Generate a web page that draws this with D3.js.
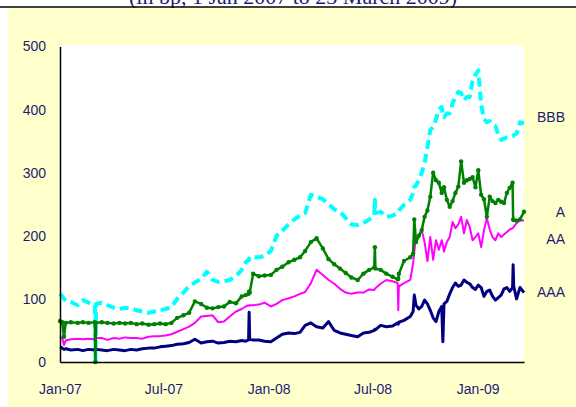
<!DOCTYPE html>
<html lang="en">
<head>
<meta charset="UTF-8">
<title>Spreads by rating</title>
<script src="https://d3js.org/d3.v7.min.js"></script>
<style>
  body { margin: 0; background: #fff; }
  svg { display: block; }
  .axis text { font-family: "Liberation Sans", Arial, sans-serif; font-size: 14px; fill: #1c1c75; }
</style>
</head>
<body>
<div id="chart"></div>
<script>
const width = 576;
const height = 407;

// series data (bp)
const dates = [
  "2007-01-01","2007-01-05","2007-01-08","2007-01-11","2007-01-20","2007-02-01","2007-02-10","2007-02-20","2007-03-03","2007-03-04",
  "2007-03-05","2007-03-15","2007-03-25","2007-04-05","2007-04-15","2007-04-25","2007-05-05","2007-05-15","2007-05-25","2007-06-05",
  "2007-06-15","2007-06-25","2007-07-05","2007-07-15","2007-07-25","2007-08-05","2007-08-15","2007-08-25","2007-09-05","2007-09-15",
  "2007-09-25","2007-10-05","2007-10-15","2007-10-25","2007-11-05","2007-11-15","2007-11-22","2007-11-27","2007-11-28","2007-11-29",
  "2007-12-05","2007-12-15","2007-12-25","2008-01-05","2008-01-15","2008-01-25","2008-02-05","2008-02-15","2008-02-25","2008-03-05",
  "2008-03-15","2008-03-25","2008-04-05","2008-04-15","2008-04-25","2008-05-05","2008-05-15","2008-05-25","2008-06-05","2008-06-15",
  "2008-06-25","2008-07-04","2008-07-05","2008-07-06","2008-07-15","2008-07-25","2008-08-05","2008-08-14","2008-08-15","2008-08-16",
  "2008-08-25","2008-09-05","2008-09-10","2008-09-12","2008-09-15","2008-09-20","2008-09-25","2008-09-30","2008-10-05","2008-10-10",
  "2008-10-15","2008-10-20","2008-10-25","2008-10-30","2008-11-01","2008-11-03","2008-11-08","2008-11-13","2008-11-18","2008-11-23",
  "2008-11-28","2008-12-03","2008-12-08","2008-12-13","2008-12-18","2008-12-23","2008-12-28","2009-01-02","2009-01-07","2009-01-12",
  "2009-01-17","2009-01-22","2009-01-27","2009-02-01","2009-02-06","2009-02-11","2009-02-16","2009-02-21","2009-02-26","2009-03-03",
  "2009-03-04","2009-03-05","2009-03-10","2009-03-16","2009-03-23"
];

const aaa = [
  24,22,20,21,19,20,18,20,19,19,
  20,19,18,20,19,18,20,19,21,22,
  22,24,25,26,28,29,31,36,30,32,
  33,30,31,33,32,34,33,35,79,36,
  35,35,33,32,38,44,46,45,47,58,
  62,56,54,64,50,46,44,42,40,46,
  47,50,52,51,58,56,57,62,60,63,
  66,72,80,106,90,84,88,98,92,82,
  70,64,80,88,32,92,96,108,118,125,
  120,122,130,126,124,118,115,122,118,104,
  112,114,104,98,102,106,116,118,112,118,
  154,120,100,118,110
];

const aa = [
  40,38,27,34,36,37,36,37,36,37,
  38,38,35,38,37,39,38,38,37,40,
  41,41,42,44,48,52,56,62,72,73,
  74,63,64,72,80,84,88,90,89,90,
  90,91,94,88,92,98,101,104,108,111,
  125,146,138,130,124,116,110,108,110,110,
  115,114,116,117,124,130,128,125,82,120,
  125,130,157,175,198,200,209,190,160,198,
  162,193,178,193,185,175,190,198,222,212,
  218,230,204,225,214,193,198,204,182,209,
  228,210,198,193,204,198,202,206,210,212,
  213,214,220,225,224
];

const a = [
  65,63,40,62,63,62,63,62,63,0,
  62,63,62,61,62,61,62,60,61,59,
  60,61,60,62,70,74,78,96,92,86,
  85,87,88,95,93,104,106,108,112,110,
  140,136,137,138,146,151,158,162,166,176,
  190,196,180,163,155,148,141,134,130,140,
  146,150,182,148,146,140,135,131,132,140,
  160,166,172,226,190,200,209,230,240,262,
  300,288,284,268,275,277,257,246,255,268,
  278,318,284,288,290,293,277,304,265,258,
  230,262,255,252,257,254,252,268,276,284,
  226,225,224,226,238
];

const bbb = [
  108,104,100,97,95,90,98,94,90,0,
  92,94,90,86,84,86,85,82,80,78,
  80,82,84,87,100,110,120,126,132,143,
  130,127,128,130,136,146,158,162,164,162,
  166,166,168,176,200,208,218,226,232,236,
  265,262,258,250,242,238,228,218,217,220,
  226,232,257,236,238,230,232,236,238,240,
  249,257,268,277,280,288,300,315,340,368,
  372,385,400,404,391,388,394,394,410,420,
  428,426,415,420,420,445,455,462,408,385,
  380,382,376,374,360,352,354,356,357,358,
  358,360,362,380,378
];

const seriesNames = ["BBB", "AAA", "AA", "A"];
const yTicks = [0, 100, 200, 300, 400, 500];
const xTicks = ["2007-01-01", "2007-07-01", "2008-01-01", "2008-07-01", "2009-01-01"];
const title = "(in bp, 1 Jan 2007 to 23 March 2009)";

const parse = d3.timeParse("%Y-%m-%d");
const seriesValues = { BBB: bbb, AAA: aaa, AA: aa, A: a };
const colors = { BBB: "#00FFFF", AAA: "#000080", AA: "#FF00FF", A: "#008000" };
const widths = { BBB: 4, AAA: 3, AA: 2, A: 2.5 };
const labelNudge = { BBB: -6, AAA: 0, AA: 18, A: 0 };

const plot = { left: 60, right: 524, top: 45, bottom: 362 };

const x = d3.scaleTime()
    .domain([parse("2007-01-01"), parse("2009-03-23")])
    .range([plot.left, plot.right]);

const y = d3.scaleLinear()
    .domain([0, 500])
    .range([plot.bottom, 46.5]);

const svg = d3.select("#chart")
    .append("svg")
    .attr("width", width)
    .attr("height", height);

// cut-off title above the frame
svg.append("text")
    .attr("x", 293)
    .attr("y", 4)
    .attr("text-anchor", "middle")
    .style("font-family", "'Liberation Serif', 'Times New Roman', serif")
    .style("font-size", "22px")
    .style("fill", "#1c1c75")
    .text(title);

svg.append("rect")
    .attr("x", 8).attr("y", 8)
    .attr("width", width - 8).attr("height", height - 8)
    .attr("fill", "#FFFFCC");

svg.append("line")
    .attr("x1", 0).attr("x2", width)
    .attr("y1", 7).attr("y2", 7)
    .attr("stroke", "#000").attr("stroke-width", 1.5);

svg.append("rect")
    .attr("x", plot.left).attr("y", plot.top)
    .attr("width", plot.right - plot.left)
    .attr("height", plot.bottom - plot.top)
    .attr("fill", "#fff");

const line = d3.line()
    .x(d => x(d.date))
    .y(d => y(d.value));

const series = seriesNames.map(name => ({
    name,
    points: dates.map((d, i) => ({ date: parse(d), value: seriesValues[name][i] }))
}));

const g = svg.append("g");

series.forEach(s => {
    const path = g.append("path")
        .datum(s.points)
        .attr("fill", "none")
        .attr("stroke", colors[s.name])
        .attr("stroke-width", widths[s.name])
        .attr("stroke-linejoin", "round")
        .attr("d", line);
    if (s.name === "BBB") path.attr("stroke-dasharray", "9,5");
    if (s.name === "A") {
        g.selectAll(".dotA")
            .data(s.points)
            .join("circle")
            .attr("class", "dotA")
            .attr("cx", d => x(d.date))
            .attr("cy", d => y(d.value))
            .attr("r", 2.2)
            .attr("fill", colors.A);
    }
});

// axes
const xAxis = svg.append("g")
    .attr("class", "axis")
    .attr("transform", `translate(0,${plot.bottom})`)
    .call(d3.axisBottom(x)
        .tickValues(xTicks.map(parse))
        .tickFormat(d3.timeFormat("%b-%y"))
        .tickSize(0)
        .tickPadding(22));
xAxis.select(".domain").attr("stroke", "#000").attr("stroke-width", 1.5);

const yAxis = svg.append("g")
    .attr("class", "axis")
    .attr("transform", `translate(${plot.left},0)`)
    .call(d3.axisLeft(y)
        .tickValues(yTicks)
        .tickSize(0)
        .tickPadding(14));
yAxis.select(".domain").attr("stroke", "#000").attr("stroke-width", 1.5);

// series labels at the right end
svg.append("g")
    .selectAll("text")
    .data(series)
    .join("text")
    .attr("x", 565)
    .attr("y", d => y(d.points[d.points.length - 1].value) + labelNudge[d.name])
    .attr("dy", "0.35em")
    .attr("text-anchor", "end")
    .style("font-family", "'Liberation Sans', Arial, sans-serif")
    .style("font-size", "14px")
    .style("fill", "#1c1c75")
    .text(d => d.name);
</script>
</body>
</html>
